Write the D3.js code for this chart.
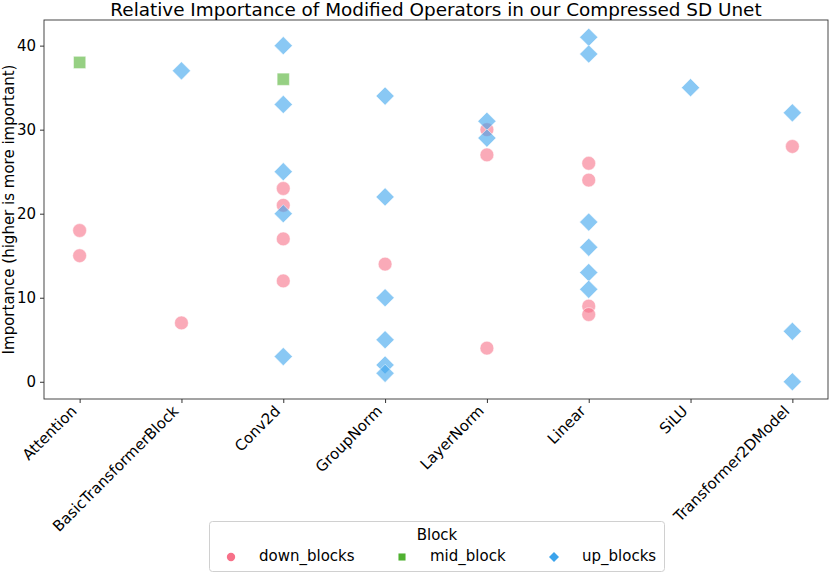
<!DOCTYPE html>
<html>
<head>
<meta charset="utf-8">
<script src="https://cdn.jsdelivr.net/npm/d3@7"></script>
<style>
  body { margin: 0; background: #fff; }
  text { font-family: "DejaVu Sans", sans-serif; fill: #000; }
</style>
</head>
<body>
<div id="chart"></div>
<script>
// operator categories on the x axis
const operators = ["Attention", "BasicTransformerBlock", "Conv2d", "GroupNorm",
    "LayerNorm", "Linear", "SiLU", "Transformer2DModel"];

const blocks = ["down_blocks", "mid_block", "up_blocks"];
const blockColors = ["#f77189", "#50b131", "#3ba3ec"];

// [operator, importance] per block
const downBlocks = [
    ["Attention", 18], ["Attention", 15],
    ["BasicTransformerBlock", 7],
    ["Conv2d", 23], ["Conv2d", 21], ["Conv2d", 17], ["Conv2d", 12],
    ["GroupNorm", 14],
    ["LayerNorm", 30], ["LayerNorm", 27], ["LayerNorm", 4],
    ["Linear", 26], ["Linear", 24], ["Linear", 9], ["Linear", 8],
    ["Transformer2DModel", 28]
];
const midBlock = [
    ["Attention", 38],
    ["Conv2d", 36]
];
const upBlocks = [
    ["BasicTransformerBlock", 37],
    ["Conv2d", 40], ["Conv2d", 33], ["Conv2d", 25], ["Conv2d", 20], ["Conv2d", 3],
    ["GroupNorm", 34], ["GroupNorm", 22], ["GroupNorm", 10], ["GroupNorm", 5], ["GroupNorm", 2], ["GroupNorm", 1],
    ["LayerNorm", 31], ["LayerNorm", 29],
    ["Linear", 41], ["Linear", 39], ["Linear", 19], ["Linear", 16], ["Linear", 13], ["Linear", 11],
    ["SiLU", 35],
    ["Transformer2DModel", 32], ["Transformer2DModel", 6], ["Transformer2DModel", 0]
];
const yTicks = [0, 10, 20, 30, 40];

const width = 830, height = 573;
const margin = { top: 20, right: 2, bottom: 174, left: 44 };
const fontSize = "15px";

const svg = d3.select("#chart").append("svg")
    .attr("width", width)
    .attr("height", height);

// categorical x with matplotlib-like 5% padding
const xIndex = d3.scaleLinear()
    .domain([-0.35, operators.length - 1 + 0.35])
    .range([margin.left, width - margin.right]);
const x = op => xIndex(operators.indexOf(op));

const y = d3.scaleLinear()
    .domain([-2.05, 43.05])
    .range([height - margin.bottom, margin.top]);

const symbols = [
    d3.symbol().type(d3.symbolCircle).size(150),
    d3.symbol().type(d3.symbolSquare).size(150),
    d3.symbol().type(d3.symbolSquare).size(165)
];
const rotations = [0, 0, 45];

// points
const series = [downBlocks, midBlock, upBlocks];
series.forEach((data, i) => {
    svg.append("g").selectAll("path")
        .data(data)
        .enter()
        .append("path")
        .attr("d", symbols[i])
        .attr("transform", d => `translate(${x(d[0])},${y(d[1])}) rotate(${rotations[i]})`)
        .attr("fill", blockColors[i])
        .attr("fill-opacity", 0.6)
        .attr("stroke", "#fff")
        .attr("stroke-opacity", 0.6)
        .attr("stroke-width", 0.8);
});

// frame
svg.append("rect")
    .attr("x", margin.left)
    .attr("y", margin.top)
    .attr("width", width - margin.right - margin.left)
    .attr("height", height - margin.bottom - margin.top)
    .attr("fill", "none")
    .attr("stroke", "#333")
    .attr("stroke-width", 0.9);

// y axis
const yAxis = svg.append("g")
    .attr("transform", `translate(${margin.left},0)`)
    .call(d3.axisLeft(y).tickValues(yTicks).tickSize(4).tickPadding(4));
yAxis.select(".domain").remove();
yAxis.selectAll("line").attr("stroke", "#333");
yAxis.selectAll("text")
    .style("font-size", fontSize)
    .style("font-family", "DejaVu Sans");

// x axis
const xAxis = svg.append("g")
    .attr("transform", `translate(0,${height - margin.bottom})`)
    .call(d3.axisBottom(xIndex).tickValues(d3.range(operators.length)).tickSize(4).tickFormat(""));
xAxis.select(".domain").remove();
xAxis.selectAll("line").attr("stroke", "#333");

svg.append("g").selectAll("text")
    .data(operators)
    .enter()
    .append("text")
    .attr("transform", d => `translate(${x(d) - 2},${height - margin.bottom + 13}) rotate(-45)`)
    .attr("text-anchor", "end")
    .style("font-size", fontSize)
    .text(d => d);

// y label
svg.append("text")
    .attr("transform", `translate(14,${(margin.top + height - margin.bottom) / 2}) rotate(-90)`)
    .attr("text-anchor", "middle")
    .style("font-size", fontSize)
    .text("Importance (higher is more important)");

// title
svg.append("text")
    .attr("x", (margin.left + width - margin.right) / 2)
    .attr("y", 15.5)
    .attr("text-anchor", "middle")
    .style("font-size", "18.4px")
    .text("Relative Importance of Modified Operators in our Compressed SD Unet");

// legend
const legend = svg.append("g");
legend.append("rect")
    .attr("x", 209.5)
    .attr("y", 521.5)
    .attr("width", 455)
    .attr("height", 50)
    .attr("rx", 3)
    .attr("fill", "#fff")
    .attr("fill-opacity", 0.8)
    .attr("stroke", "#d0d0d0");
legend.append("text")
    .attr("x", 437)
    .attr("y", 540)
    .attr("text-anchor", "middle")
    .style("font-size", fontSize)
    .text("Block");

const legendX = [231, 402, 554];
const legendSymbols = [
    d3.symbol().type(d3.symbolCircle).size(55),
    d3.symbol().type(d3.symbolSquare).size(50),
    d3.symbol().type(d3.symbolSquare).size(50)
];
blocks.forEach((b, i) => {
    legend.append("path")
        .attr("d", legendSymbols[i])
        .attr("transform", `translate(${legendX[i]},557) rotate(${rotations[i]})`)
        .attr("fill", blockColors[i]);
    legend.append("text")
        .attr("x", legendX[i] + 28)
        .attr("y", 561)
        .style("font-size", fontSize)
        .text(b);
});
</script>
</body>
</html>
